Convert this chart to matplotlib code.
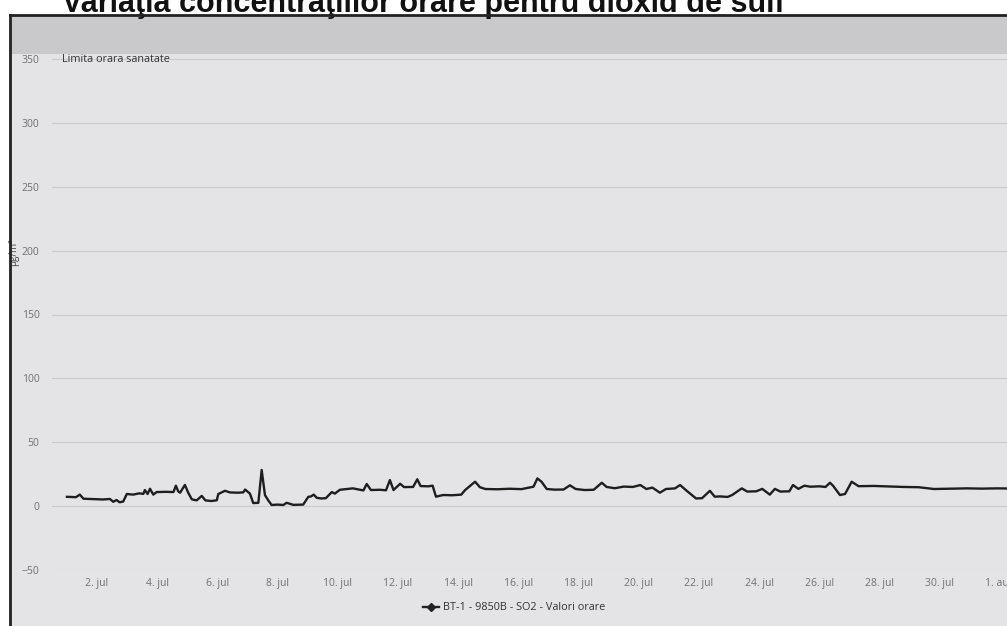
import matplotlib
matplotlib.use("Agg")
import matplotlib.pyplot as plt
import matplotlib.dates as mdates
from matplotlib.lines import Line2D
from matplotlib.patches import Rectangle
import pandas as pd

# hourly SO2 values: (day offset from 1 July, value in ug/m3)
day_offset = [0.00, 0.30, 0.43, 0.55, 0.90, 1.20, 1.43, 1.54, 1.65, 1.75, 1.87, 1.99, 2.20,
              2.40, 2.54, 2.59, 2.68, 2.76, 2.87, 2.98, 3.30, 3.54, 3.62, 3.70, 3.76, 3.92,
              4.03, 4.15, 4.31, 4.48, 4.60, 4.80, 4.98, 5.03, 5.25, 5.42, 5.70, 5.86, 5.92,
              6.08, 6.19, 6.36, 6.47, 6.58, 6.69, 6.80, 7.00, 7.19, 7.30, 7.52, 7.85, 8.02,
              8.10, 8.20, 8.30, 8.45, 8.60, 8.80, 8.90, 9.07, 9.50, 9.85, 9.96, 10.10, 10.40,
              10.60, 10.73, 10.85, 11.07, 11.20, 11.50, 11.64, 11.75, 12.00, 12.15, 12.26,
              12.50, 12.80, 13.10, 13.23, 13.56, 13.72, 13.90, 14.30, 14.70, 15.10, 15.50,
              15.63, 15.77, 15.94, 16.20, 16.50, 16.71, 16.90, 17.20, 17.50, 17.77, 17.93,
              18.20, 18.50, 18.80, 19.05, 19.25, 19.45, 19.70, 19.90, 20.20, 20.37, 20.60,
              20.90, 21.10, 21.36, 21.52, 21.70, 21.95, 22.10, 22.42, 22.60, 22.90, 23.10,
              23.35, 23.52, 23.70, 24.00, 24.12, 24.30, 24.50, 24.70, 25.00, 25.20, 25.35,
              25.45, 25.68, 25.85, 26.07, 26.30, 26.80, 27.30, 27.80, 28.30, 28.80, 29.30,
              29.90, 30.40, 30.90, 31.25]
so2 = [7.3, 7.0, 9.0, 5.8, 5.5, 5.2, 5.6, 3.4, 4.8, 3.0, 3.6, 9.5, 9.0,
       10.0, 9.6, 12.6, 9.5, 13.6, 9.0, 11.0, 11.2, 11.0, 16.0, 11.5, 10.5, 16.6,
       10.5, 5.3, 4.5, 8.0, 4.5, 4.0, 4.6, 9.5, 12.0, 10.7, 10.5, 10.8, 13.0,
       9.8, 2.4, 2.6, 28.3, 8.6, 4.5, 0.9, 1.2, 0.9, 2.6, 1.0, 1.2, 7.3,
       7.5, 9.0, 6.5, 6.0, 6.2, 11.0, 9.8, 12.8, 13.9, 12.3, 17.3, 12.6, 12.8,
       12.4, 20.4, 12.6, 17.5, 14.9, 15.0, 21.0, 15.7, 15.5, 16.0, 7.4,
       8.7, 8.5, 9.0, 12.6, 19.1, 14.8, 13.4, 13.2, 13.6, 13.3, 15.2,
       21.7, 19.0, 13.4, 12.9, 13.0, 16.3, 13.4, 12.6, 12.8, 18.3, 15.0,
       14.0, 15.3, 15.0, 16.5, 13.4, 14.5, 10.5, 13.4, 13.9, 16.5, 11.8,
       6.0, 6.2, 12.0, 7.4, 7.6, 7.2, 8.7, 13.9, 11.4, 11.6, 13.5,
       9.0, 13.5, 11.4, 11.6, 16.5, 13.5, 16.0, 15.2, 15.5, 15.0, 18.3,
       16.0, 8.7, 9.5, 19.1, 15.6, 15.8, 15.4, 15.0, 14.8, 13.4, 13.6,
       13.9, 13.7, 13.9, 13.8]

y_ticks = [-50, 0, 50, 100, 150, 200, 250, 300, 350]
limit_value = 350
series_name = "BT-1 - 9850B - SO2 - Valori orare"
limit_label = "Limita orara sanatate"
title = "Variaţia concentraţiilor orare pentru dioxid de sulf"

start = pd.Timestamp("2019-07-01")
times = [start + pd.Timedelta(days=d) for d in day_offset]

plt.rcParams["font.family"] = ["Open Sans", "DejaVu Sans"]

W, H = 1007, 626
TOP = 15  # pixel row of the chart frame
LEFT = 52  # pixel column where the plot area starts
fig = plt.figure(figsize=(W / 100, H / 100), dpi=100)
fig.patch.set_facecolor("white")

# chart container (scanned gray paper)
fig.patches.append(Rectangle((10 / W, 0), 1 - 10 / W, 1 - TOP / H, transform=fig.transFigure,
                             facecolor="#e4e4e6", edgecolor="none", zorder=-5))

ax = fig.add_axes([LEFT / W, (H - 570) / H, 1 - LEFT / W, (570 - TOP) / H])
ax.set_zorder(2)
ax.set_facecolor("none")

ymax = -50 + 400 * (570 - TOP) / 511
# health limit band, stretched over the left margin up to the frame
ax.axhspan(354, ymax, xmin=-(LEFT - 10) / (W - LEFT), xmax=1, color="#c9c9cb",
           zorder=0, lw=0, clip_on=False)
ax.plot(times, so2, color="#1e1e1e", lw=1.7, zorder=3)
ax.text(0.0105, limit_value, limit_label, transform=ax.get_yaxis_transform(),
        fontsize=7.8, color="#333333", va="center", ha="left")

ax.set_ylim(-50, ymax)
ax.set_yticks(y_ticks)
ax.set_xlim(start - pd.Timedelta(days=0.495), start + pd.Timedelta(days=31.23))
ax.xaxis.set_major_locator(mdates.DayLocator(bymonthday=range(2, 32, 2)))
ax.set_xticks(list(ax.get_xticks()) + [mdates.date2num(pd.Timestamp("2019-08-01"))])


def day_label(x, pos=None):
    d = mdates.num2date(x)
    return f"{d.day}. {'jul' if d.month == 7 else 'aug'}"


ax.xaxis.set_major_formatter(plt.FuncFormatter(day_label))
ax.grid(axis="y", color="#cbcbcd", lw=0.8)
ax.tick_params(length=0, labelsize=7.5, labelcolor="#707070")
ax.tick_params(axis="y", pad=9)
ax.tick_params(axis="x", pad=6)
for s in ax.spines.values():
    s.set_visible(False)

# frame of the chart
fig.lines.append(Line2D([10 / W, 10 / W], [0, 1 - TOP / H], transform=fig.transFigure,
                        color="#222222", lw=2.0, zorder=5))
fig.lines.append(Line2D([10 / W, 1], [1 - TOP / H, 1 - TOP / H], transform=fig.transFigure,
                        color="#222222", lw=2.0, zorder=5))

fig.text(14 / W, 1 - 252 / H, "µg/m³", rotation=90, fontsize=7, color="#444444",
         ha="center", va="center")
fig.text(62 / W, 1 - 12 / H, title, fontsize=22, fontweight="bold", color="#111111",
         family=["Liberation Sans", "DejaVu Sans"], ha="left", va="baseline")

handle = Line2D([], [], color="#222222", lw=1.7, marker="D", markersize=4.5)
fig.legend([handle], [series_name], loc="center", bbox_to_anchor=(514 / W, 1 - 608 / H),
           frameon=False, fontsize=7.8, labelcolor="#333333", handlelength=1.5,
           handletextpad=0.4)

fig.savefig("out.png", dpi=100, facecolor="white")
